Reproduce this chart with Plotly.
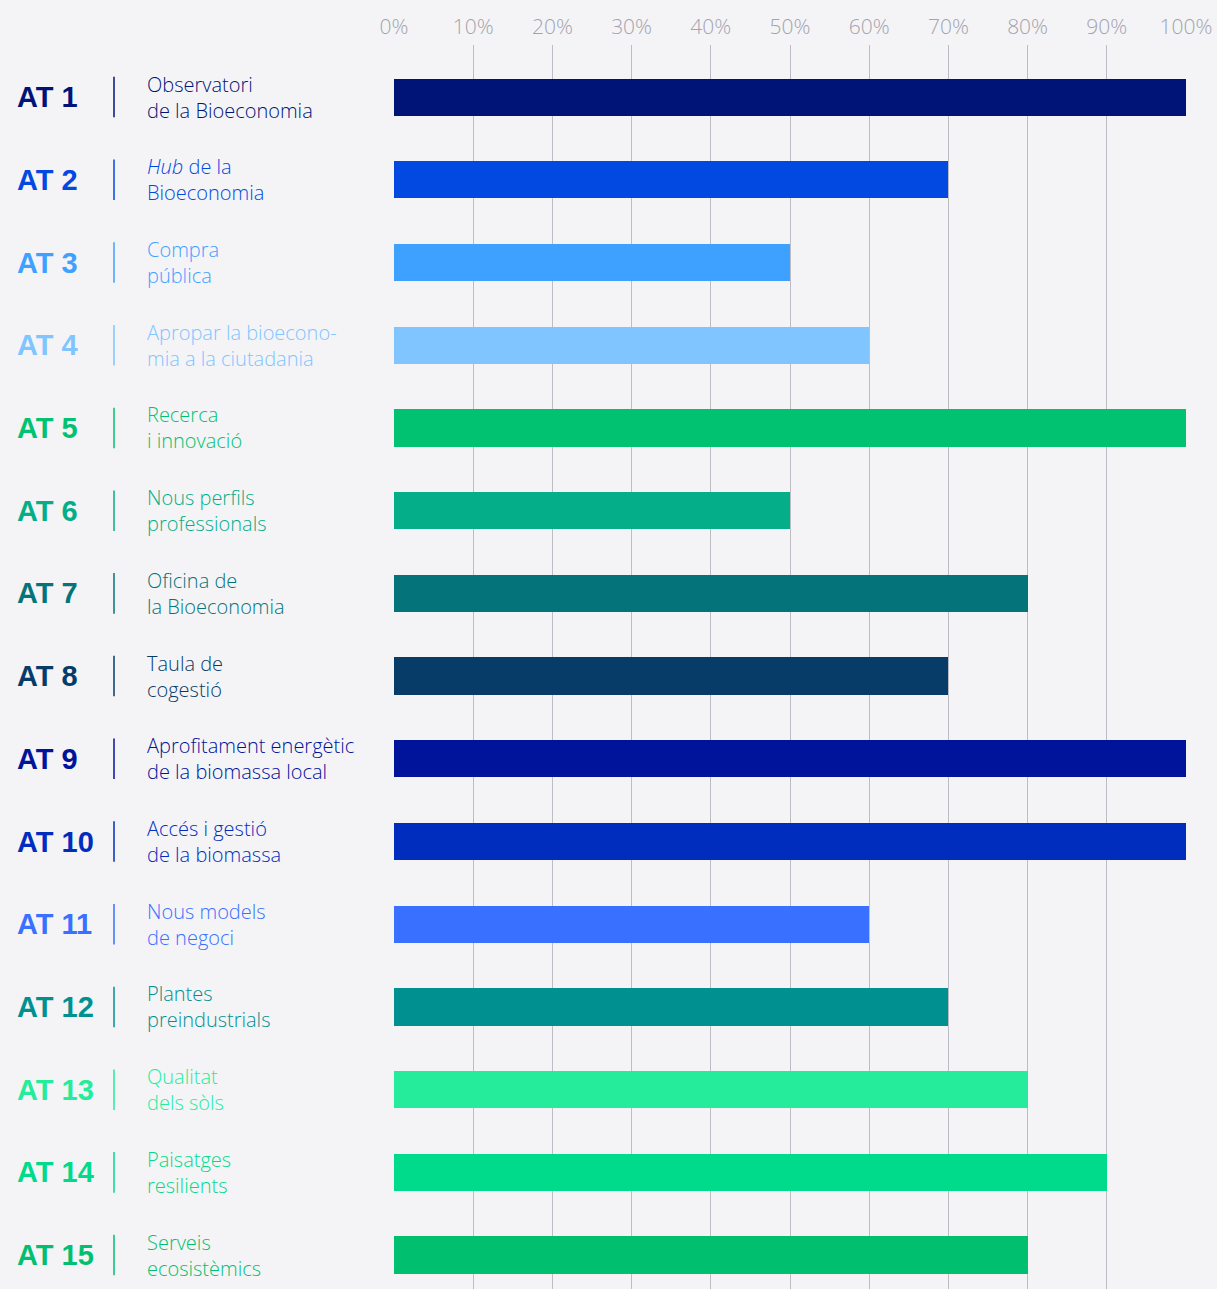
import plotly.graph_objects as go

codes = ["AT 1", "AT 2", "AT 3", "AT 4", "AT 5", "AT 6", "AT 7", "AT 8",
         "AT 9", "AT 10", "AT 11", "AT 12", "AT 13", "AT 14", "AT 15"]
descriptions = [
    "Observatori<br>de la Bioeconomia",
    "<i>Hub</i> de la<br>Bioeconomia",
    "Compra<br>pública",
    "Apropar la bioecono-<br>mia a la ciutadania",
    "Recerca<br>i innovació",
    "Nous perfils<br>professionals",
    "Oficina de<br>la Bioeconomia",
    "Taula de<br>cogestió",
    "Aprofitament energètic<br>de la biomassa local",
    "Accés i gestió<br>de la biomassa",
    "Nous models<br>de negoci",
    "Plantes<br>preindustrials",
    "Qualitat<br>dels sòls",
    "Paisatges<br>resilients",
    "Serveis<br>ecosistèmics",
]
values = [100, 70, 50, 60, 100, 50, 80, 70, 100, 100, 60, 70, 80, 90, 80]
colors = ["#001478", "#0249E2", "#3FA1FF", "#80C5FF", "#00C270", "#03AE88",
          "#05747A", "#073C69", "#00139B", "#002DBE", "#3A70FF", "#009090",
          "#25EC9A", "#00DA8B", "#00C070"]
tick_vals = [0, 10, 20, 30, 40, 50, 60, 70, 80, 90, 100]
tick_text = ["0%", "10%", "20%", "30%", "40%", "50%", "60%", "70%", "80%", "90%", "100%"]

W, H = 1217, 1289
ML, MR, MT, MB = 394, 31, 45, 0
PW = W - ML - MR
LIGHT = "Open Sans, Liberation Sans, Arial, sans-serif"
BOLD = "Liberation Sans, Arial, sans-serif"


def px_to_paper(px):
    return (px - ML) / PW


fig = go.Figure(go.Bar(
    x=values, y=codes, orientation="h",
    marker=dict(color=colors, line=dict(width=0)),
    width=0.45, hoverinfo="skip",
))

annotations = []
shapes = []
for i, (c, d, col) in enumerate(zip(codes, descriptions, colors)):
    annotations.append(dict(
        x=px_to_paper(15), y=c, xref="paper", yref="y", text="<b>" + c + "</b>",
        showarrow=False, xanchor="left", yanchor="middle",
        font=dict(family=BOLD, size=29, color=col),
    ))
    annotations.append(dict(
        x=px_to_paper(145), y=c, xref="paper", yref="y", text=d,
        showarrow=False, xanchor="left", yanchor="middle", align="left",
        font=dict(family=LIGHT, size=20, color=col, weight=300),
    ))
    shapes.append(dict(
        type="line", xref="paper", yref="y",
        x0=px_to_paper(114), x1=px_to_paper(114), y0=i - 0.245, y1=i + 0.245,
        line=dict(color=col, width=1.5),
    ))

fig.update_layout(
    width=W, height=H,
    margin=dict(l=ML, r=MR, t=MT, b=MB),
    paper_bgcolor="#F4F4F6", plot_bgcolor="#F4F4F6",
    showlegend=False,
    bargap=0,
    xaxis=dict(
        side="top", range=[0, 100], tickvals=tick_vals, ticktext=tick_text,
        showgrid=True, gridcolor="#BDBDC6", gridwidth=1.2, zeroline=False,
        showline=False, ticks="", ticklabelstandoff=6,
        tickfont=dict(family=LIGHT, size=21, color="#A3A3AE", weight=300),
        fixedrange=True,
    ),
    yaxis=dict(
        categoryorder="array", categoryarray=codes,
        range=[14.41, -0.63], autorange=False,
        showticklabels=False, showgrid=False, zeroline=False, showline=False,
        fixedrange=True,
    ),
    annotations=annotations,
    shapes=shapes,
)

fig.write_html(
    "out.html",
    config={"displayModeBar": False},
    post_script="document.body.style.margin='0';document.body.style.background='#F4F4F6';",
)
